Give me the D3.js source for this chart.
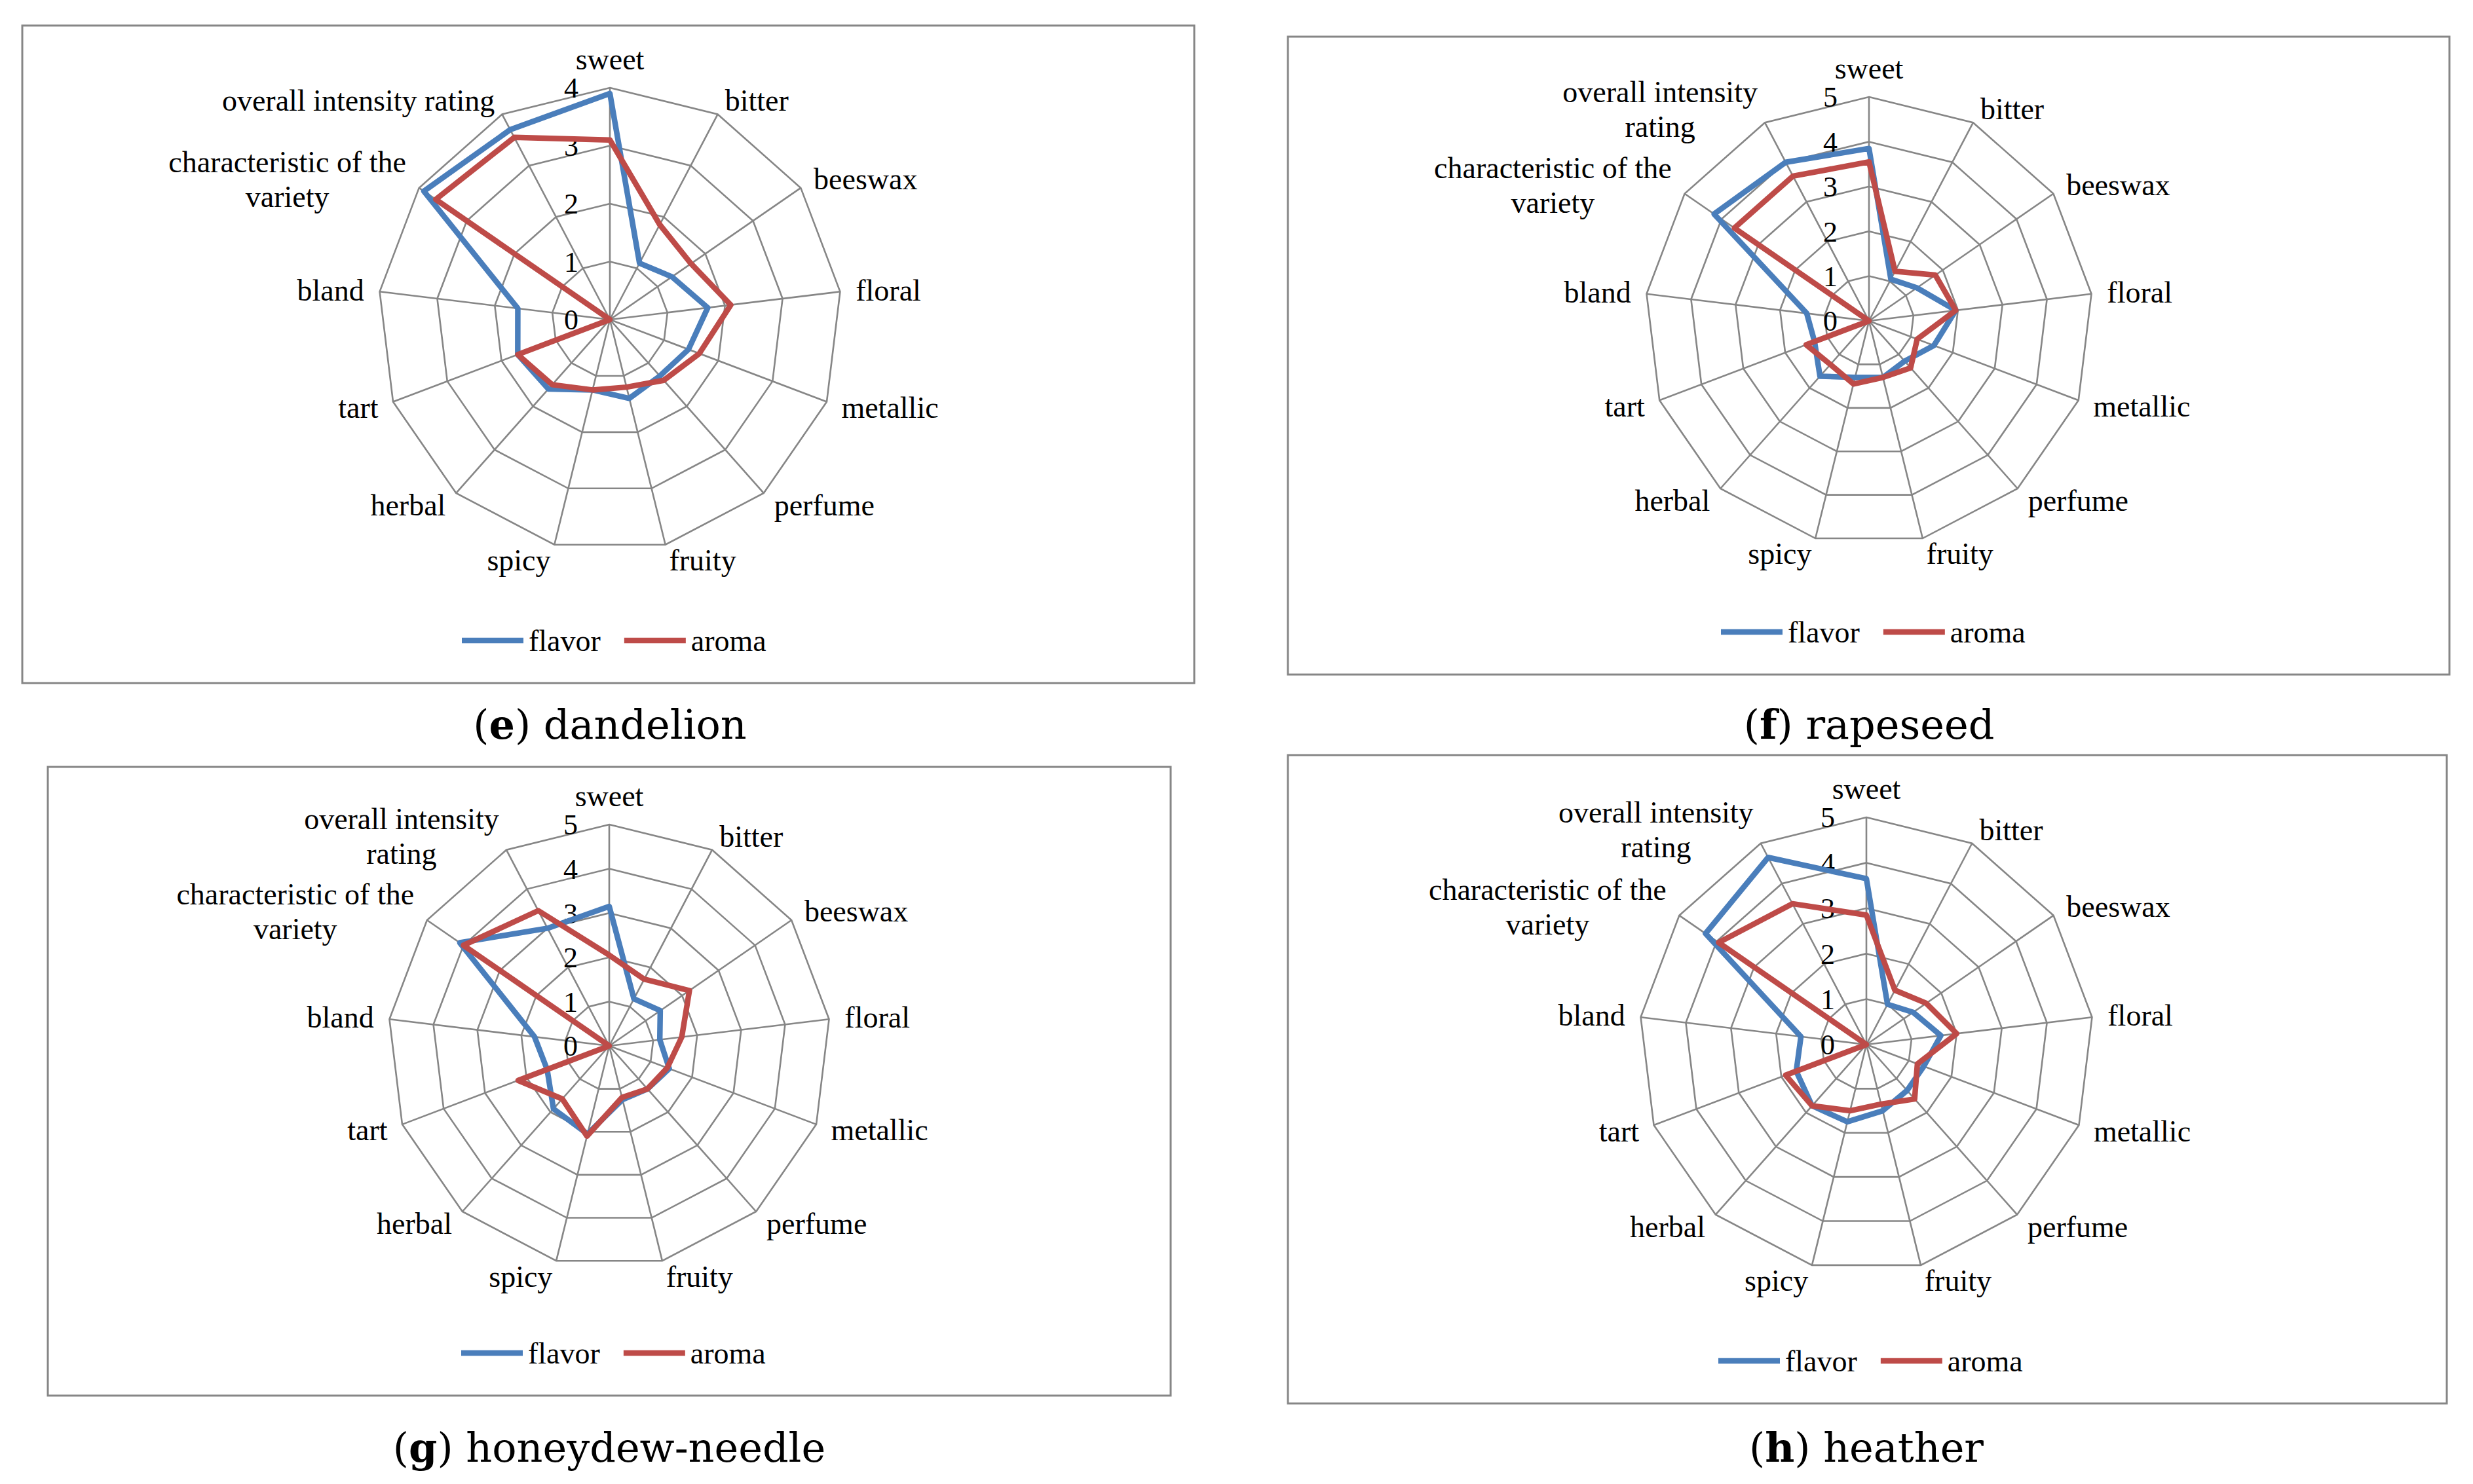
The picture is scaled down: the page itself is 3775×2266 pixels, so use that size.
<!DOCTYPE html>
<html>
<head>
<meta charset="utf-8">
<script src="https://cdn.jsdelivr.net/npm/d3@7"></script>
<style>
  html, body { margin: 0; background: #fff; }
</style>
</head>
<body>
<div id="chart"></div>
<script>
// Sensory attributes, clockwise from the top.
const categories = ["sweet", "bitter", "beeswax", "floral", "metallic", "perfume", "fruity",
    "spicy", "herbal", "tart", "bland", "characteristic of the variety", "overall intensity rating"];
const seriesNames = ["flavor", "aroma"];
const ticks4 = [0, 1, 2, 3, 4];
const ticks5 = [0, 1, 2, 3, 4, 5];

// Values, in category order.
const dandelionFlavor = [3.9, 1.1, 1.3, 1.7, 1.45, 1.3, 1.4, 1.25, 1.6, 1.7, 1.6, 3.9, 3.7];
const dandelionAroma  = [3.1, 1.85, 1.7, 2.1, 1.65, 1.4, 1.2, 1.25, 1.5, 1.7, 0, 3.65, 3.55];
const rapeseedFlavor  = [3.85, 1.05, 1.3, 1.95, 1.55, 1.2, 1.3, 1.3, 1.65, 1.3, 1.4, 4.2, 4.0];
const rapeseedAroma   = [3.55, 1.25, 1.8, 1.95, 1.15, 1.4, 1.3, 1.45, 1.3, 1.5, 0, 3.65, 3.65];
const honeydewFlavor  = [3.15, 1.2, 1.4, 1.15, 1.45, 1.3, 1.25, 2.05, 1.9, 1.5, 1.7, 4.1, 3.0];
const honeydewAroma   = [2.05, 1.7, 2.2, 1.65, 1.4, 1.3, 1.2, 2.1, 1.6, 2.2, 0, 4.0, 3.45];
const heatherFlavor   = [3.65, 1.0, 1.25, 1.65, 1.35, 1.35, 1.5, 1.75, 1.8, 1.65, 1.45, 4.3, 4.65];
const heatherAroma    = [2.85, 1.35, 1.6, 2.0, 1.2, 1.6, 1.35, 1.5, 1.8, 1.9, 0, 3.95, 3.5];

const W = 3775, H = 2266;
const colors = {flavor: "#4A7EBB", aroma: "#BE4B48"};
const gridColor = "#868686";
const serif = '"Liberation Serif", "Times New Roman", serif';
const captionFont = '"DejaVu Serif", serif';

// Layout of the four panels (pixels).
const panels = [
    {letter: "e", name: "dandelion", flavor: dandelionFlavor, aroma: dandelionAroma, ticks: ticks4,
     box: [34, 39, 1823, 1043], cx: 931, cy: 488, R: 354, wrapOverall: false, captionY: 1106},
    {letter: "f", name: "rapeseed", flavor: rapeseedFlavor, aroma: rapeseedAroma, ticks: ticks5,
     box: [1966, 56, 3739, 1030], cx: 2853, cy: 490, R: 342, wrapOverall: true, captionY: 1106},
    {letter: "g", name: "honeydew-needle", flavor: honeydewFlavor, aroma: honeydewAroma, ticks: ticks5,
     box: [73, 1171, 1787, 2131], cx: 930, cy: 1597, R: 338, wrapOverall: true, captionY: 2210},
    {letter: "h", name: "heather", flavor: heatherFlavor, aroma: heatherAroma, ticks: ticks5,
     box: [1966, 1153, 3735, 2143], cx: 2849, cy: 1595, R: 347, wrapOverall: true, captionY: 2210},
];

const svg = d3.select("#chart").append("svg").attr("width", W).attr("height", H);
svg.append("rect").attr("width", W).attr("height", H).attr("fill", "#fff");

function labelLines(name, wrapOverall) {
    if (name === "characteristic of the variety") return ["characteristic of the", "variety"];
    if (name === "overall intensity rating" && wrapOverall) return ["overall intensity", "rating"];
    return [name];
}

function drawPanel(p) {
    const g = svg.append("g");
    const [x0, y0, x1, y1] = p.box;
    g.append("rect")
        .attr("x", x0).attr("y", y0)
        .attr("width", x1 - x0).attr("height", y1 - y0)
        .attr("fill", "none")
        .attr("stroke", gridColor)
        .attr("stroke-width", 3);

    const n = categories.length;
    const max = d3.max(p.ticks);
    const angle = d3.scaleLinear().domain([0, n]).range([0, 2 * Math.PI]);
    const r = d3.scaleLinear().domain([0, max]).range([0, p.R]);
    const plot = g.append("g").attr("transform", `translate(${p.cx},${p.cy})`);

    const radial = d3.lineRadial()
        .angle((d, i) => angle(i))
        .radius((d) => r(d))
        .curve(d3.curveLinearClosed);

    // Web: rings and spokes.
    p.ticks.slice(1).forEach((t) => {
        plot.append("path")
            .attr("d", radial(categories.map(() => t)))
            .attr("fill", "none")
            .attr("stroke", gridColor)
            .attr("stroke-width", 2.6);
    });
    categories.forEach((c, i) => {
        plot.append("line")
            .attr("x1", 0).attr("y1", 0)
            .attr("x2", Math.sin(angle(i)) * r(max))
            .attr("y2", -Math.cos(angle(i)) * r(max))
            .attr("stroke", gridColor)
            .attr("stroke-width", 2.6);
    });

    // Tick labels along the sweet axis.
    p.ticks.forEach((t) => {
        plot.append("text")
            .attr("x", -48).attr("y", -r(t))
            .attr("dy", "0.35em")
            .attr("text-anchor", "end")
            .style("font-family", serif)
            .style("font-size", "44px")
            .text(t);
    });

    // Category labels.
    const lineH = 53;
    categories.forEach((c, i) => {
        const s = Math.sin(angle(i)), co = Math.cos(angle(i));
        const rr = r(max) + 24;
        let x = s * rr, y = -co * rr;
        if (Math.abs(s) < 0.1 && co > 0) y -= 20;
        const lines = labelLines(c, p.wrapOverall);
        const anchor = s > 0.1 ? "start" : (s < -0.1 ? "end" : "middle");
        const t = plot.append("text")
            .style("font-family", serif)
            .style("font-size", "46px")
            .attr("text-anchor", lines.length > 1 ? "middle" : anchor);
        const spans = lines.map((ln, k) => t.append("tspan")
            .attr("y", y + (k - (lines.length - 1) / 2) * lineH)
            .attr("dy", "0.35em")
            .text(ln));
        if (lines.length > 1) {
            const bw = d3.max(spans, (sp) => sp.node().getComputedTextLength());
            const mid = anchor === "end" ? x - bw / 2 : (anchor === "start" ? x + bw / 2 : x);
            spans.forEach((sp) => sp.attr("x", mid));
        } else {
            spans.forEach((sp) => sp.attr("x", x));
        }
    });

    // Series lines.
    seriesNames.forEach((name) => {
        plot.append("path")
            .attr("d", radial(p[name]))
            .attr("fill", "none")
            .attr("stroke", colors[name])
            .attr("stroke-width", 8.5)
            .attr("stroke-linejoin", "round");
    });

    // Legend.
    const ly = y1 - 65;
    let lx = p.cx - 226;
    seriesNames.forEach((name) => {
        g.append("line")
            .attr("x1", lx).attr("x2", lx + 94)
            .attr("y1", ly).attr("y2", ly)
            .attr("stroke", colors[name])
            .attr("stroke-width", 8.5);
        const t = g.append("text")
            .attr("x", lx + 102).attr("y", ly)
            .attr("dy", "0.35em")
            .style("font-family", serif)
            .style("font-size", "46px")
            .text(name);
        lx += 102 + t.node().getComputedTextLength() + 36;
    });

    // Caption.
    const cap = svg.append("text")
        .attr("x", p.cx).attr("y", p.captionY)
        .attr("dy", "0.35em")
        .attr("text-anchor", "middle")
        .style("font-family", captionFont)
        .style("font-size", "62px");
    cap.append("tspan").text("(");
    cap.append("tspan").style("font-weight", "bold").text(p.letter);
    cap.append("tspan").text(") " + p.name);
}

panels.forEach(drawPanel);
</script>
</body>
</html>
